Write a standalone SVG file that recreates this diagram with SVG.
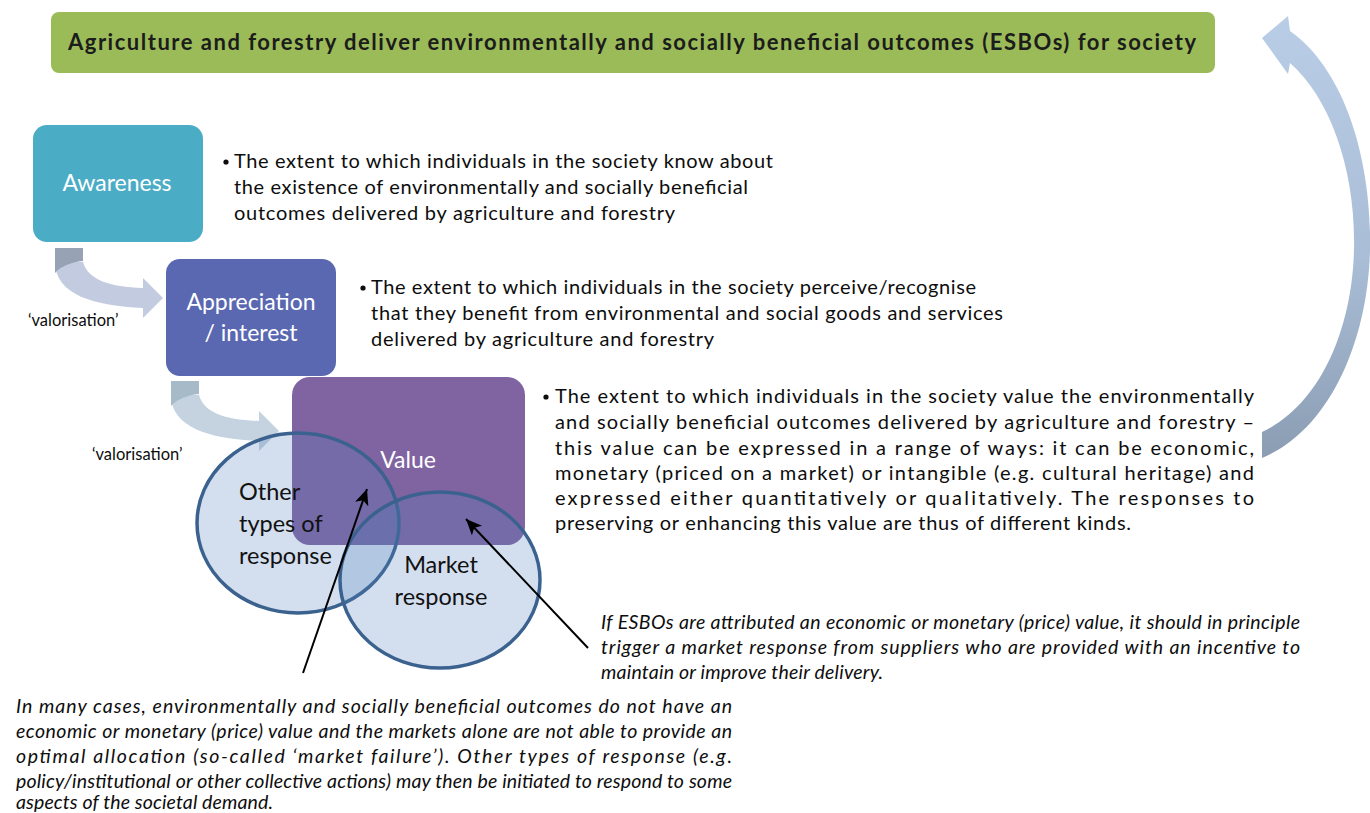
<svg xmlns="http://www.w3.org/2000/svg" width="1370" height="813" viewBox="0 0 1370 813">
<defs>
<style>
.t{font-family:Lato,"Open Sans","Liberation Sans",sans-serif;font-size:20px;fill:#0d0d0d}
.it{font-family:Lato,"Open Sans","Liberation Sans",sans-serif;font-size:19.5px;font-style:italic;fill:#0d0d0d}
.lab{font-family:Lato,"Open Sans","Liberation Sans",sans-serif;font-size:16.5px;fill:#0d0d0d}
.box{font-family:Lato,"Open Sans","Liberation Sans",sans-serif;font-size:23px;fill:#ffffff;text-anchor:middle}
.ctx{font-family:Lato,"Open Sans","Liberation Sans",sans-serif;font-size:23.5px;fill:#111111}
.circ{fill:#4f81bd;fill-opacity:0.25;stroke:#3b628f;stroke-width:3.5}
.blk{stroke:#000;stroke-width:2;fill:none}
</style>
<linearGradient id="bigg" x1="0" y1="0" x2="0" y2="1">
<stop offset="0" stop-color="#b9cde6"/>
<stop offset="0.55" stop-color="#a9bdd6"/>
<stop offset="1" stop-color="#8a9db3"/>
</linearGradient>
<marker id="ah" markerUnits="userSpaceOnUse" markerWidth="20" markerHeight="16" refX="16" refY="7" orient="auto">
<path d="M0,0 L16,7 L0,14 L4,7 Z" fill="#000"/>
</marker>
</defs>
<rect width="1370" height="813" fill="#ffffff"/>

<g id="banner">
<rect x="51" y="12" width="1164" height="61" rx="8" fill="#9bbb59"/>
<text x="632" y="50" text-anchor="middle" font-family="Lato,'Open Sans','Liberation Sans',sans-serif" font-size="22" font-weight="bold" fill="#1c1c1c" textLength="1128" lengthAdjust="spacing">Agriculture and forestry deliver environmentally and socially beneficial outcomes (ESBOs) for society</text>
</g>

<g id="connectors">
<path id="bigarrow" d="M1262,38 L1288,16 L1290,31 C1345,70 1372,160 1370,250 C1368,340 1330,430 1262,458 L1262,432 C1320,405 1352,330 1354,250 C1356,170 1330,98 1290,63 L1288,74 Z" fill="url(#bigg)"/>
<g id="valor1">
<path d="M55,262 C55,295 95,306 143,308 L143,318 L163,298 L143,278 L143,288 C110,287 88,280 83,262 Z" fill="#c3cbe0"/>
<path d="M55,248 L83,248 L83,261 C72,262 61,266 55,273 Z" fill="#98a2b5"/>
</g>
<g id="valor2">
<path d="M171,395 C171,428 211,439 259,441 L259,451 L279,431 L259,411 L259,421 C226,420 204,413 199,395 Z" fill="#c4d3df"/>
<path d="M171,381 L199,381 L199,394 C188,395 177,399 171,406 Z" fill="#a7bac7"/>
</g>
</g>

<g id="awareness">
<rect x="33" y="125" width="170" height="117" rx="14" fill="#4bacc6"/>
<text class="box" x="117" y="191">Awareness</text>
</g>

<g id="appreciation">
<rect x="166" y="259" width="170" height="117" rx="14" fill="#5a67b1"/>
<text class="box" x="251" y="310" font-size="25">Appreciation</text>
<text class="box" x="251" y="341" font-size="25">/ interest</text>
</g>

<g id="value">
<rect x="292" y="377" width="233" height="168" rx="18" fill="#8064a2"/>
<text class="box" x="408" y="468">Value</text>
</g>

<g id="other-response">
<ellipse class="circ" cx="298" cy="523" rx="101" ry="90"/>
</g>
<g id="market-response">
<ellipse class="circ" cx="440" cy="580" rx="100" ry="88"/>
</g>
<g id="circle-labels">
<text class="ctx" x="239" y="500">Other</text>
<text class="ctx" x="239" y="532">types of</text>
<text class="ctx" x="239" y="564">response</text>
<text class="ctx" x="441" y="573" text-anchor="middle">Market</text>
<text class="ctx" x="441" y="605" text-anchor="middle">response</text>
</g>

<g id="pointers">
<line class="blk" x1="303" y1="673" x2="367" y2="489" marker-end="url(#ah)"/>
<line class="blk" x1="588" y1="648" x2="466" y2="519" marker-end="url(#ah)"/>
</g>

<g id="valorisation-labels">
<text class="lab" x="28" y="326">‘valorisation’</text>
<text class="lab" x="92" y="460">‘valorisation’</text>
</g>

<g id="awareness-text">
<circle cx="226" cy="162" r="2.6" fill="#0d0d0d"/>
<text class="t" x="234" y="168" textLength="539" lengthAdjust="spacing">The extent to which individuals in the society know about</text>
<text class="t" x="234" y="194" textLength="514" lengthAdjust="spacing">the existence of environmentally and socially beneficial</text>
<text class="t" x="234" y="220" textLength="441" lengthAdjust="spacing">outcomes delivered by agriculture and forestry</text>
</g>

<g id="appreciation-text">
<circle cx="363" cy="288" r="2.6" fill="#0d0d0d"/>
<text class="t" x="371" y="294" textLength="605" lengthAdjust="spacing">The extent to which individuals in the society perceive/recognise</text>
<text class="t" x="371" y="320" textLength="632" lengthAdjust="spacing">that they benefit from environmental and social goods and services</text>
<text class="t" x="371" y="346" textLength="343" lengthAdjust="spacing">delivered by agriculture and forestry</text>
</g>

<g id="value-text">
<circle cx="546" cy="397" r="2.6" fill="#0d0d0d"/>
<text class="t" x="555" y="403" textLength="699" lengthAdjust="spacing">The extent to which individuals in the society value the environmentally</text>
<text class="t" x="555" y="429" textLength="699" lengthAdjust="spacing">and socially beneficial outcomes delivered by agriculture and forestry –</text>
<text class="t" x="555" y="455" textLength="699" lengthAdjust="spacing">this value can be expressed in a range of ways: it can be economic,</text>
<text class="t" x="555" y="480" textLength="699" lengthAdjust="spacing">monetary (priced on a market) or intangible (e.g. cultural heritage) and</text>
<text class="t" x="555" y="505" textLength="699" lengthAdjust="spacing">expressed either quantitatively or qualitatively. The responses to</text>
<text class="t" x="555" y="530" textLength="576" lengthAdjust="spacing">preserving or enhancing this value are thus of different kinds.</text>
</g>

<g id="market-note">
<text class="it" x="601" y="629" textLength="699" lengthAdjust="spacing">If ESBOs are attributed an economic or monetary (price) value, it should in principle</text>
<text class="it" x="601" y="654" textLength="699" lengthAdjust="spacing">trigger a market response from suppliers who are provided with an incentive to</text>
<text class="it" x="601" y="679" textLength="282" lengthAdjust="spacing">maintain or improve their delivery.</text>
</g>

<g id="other-note">
<text class="it" x="16" y="713" textLength="716" lengthAdjust="spacing">In many cases,  environmentally and socially beneficial outcomes do not have an</text>
<text class="it" x="16" y="738" textLength="716" lengthAdjust="spacing">economic or monetary (price) value and the markets alone are not able to provide an</text>
<text class="it" x="16" y="763" textLength="716" lengthAdjust="spacing">optimal allocation (so-called ‘market failure’). Other types of response (e.g.</text>
<text class="it" x="16" y="788" textLength="716" lengthAdjust="spacing">policy/institutional or other collective actions) may then be initiated to respond to some</text>
<text class="it" x="16" y="809" textLength="257" lengthAdjust="spacing">aspects of the societal demand.</text>
</g>
</svg>
